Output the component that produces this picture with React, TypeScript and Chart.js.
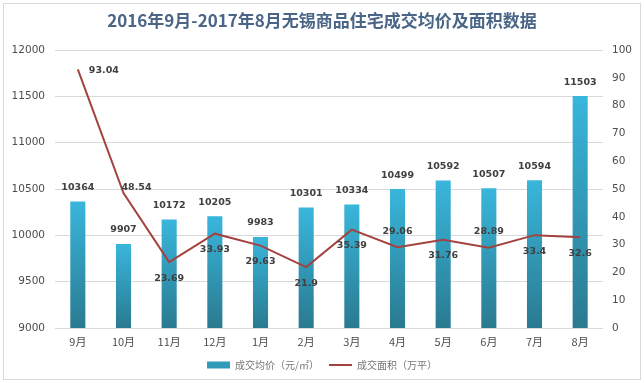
import React, { useEffect, useRef } from 'react';
import { Chart, registerables } from 'chart.js';

Chart.register(...registerables);

const titleText = '2016年9月-2017年8月无锡商品住宅成交均价及面积数据';
const months = ['9月', '10月', '11月', '12月', '1月', '2月', '3月', '4月', '5月', '6月', '7月', '8月'];
const avgPrice = [10364, 9907, 10172, 10205, 9983, 10301, 10334, 10499, 10592, 10507, 10594, 11503];
const dealArea = [93.04, 48.54, 23.69, 33.93, 29.63, 21.9, 35.39, 29.06, 31.76, 28.89, 33.4, 32.6];
const areaLabelSide = ['right', 'aboveRight', 'below', 'below', 'below', 'below', 'below', 'above', 'below', 'above', 'below', 'below'];
const priceLabel = '成交均价（元/㎡）';
const areaLabel = '成交面积（万平）';
const priceMin = 9000;
const priceMax = 12000;
const priceStep = 500;
const areaMin = 0;
const areaMax = 100;
const areaStep = 10;

const BAR_TOP = '#39B6DC';
const BAR_BOTTOM = '#2A7A90';
const LINE_COLOR = '#A3433F';
const TICK_COLOR = '#4D4D4D';
const LABEL_COLOR = '#404040';
const NUM_FONT = '"DejaVu Sans", sans-serif';
const CJK_FONT = '"Noto Sans CJK SC", "Noto Sans", sans-serif';

const framePlugin = {
  id: 'frame',
  beforeDraw(chart: any) {
    const { ctx, width, height } = chart;
    ctx.save();
    ctx.fillStyle = '#ffffff';
    ctx.fillRect(0, 0, width, height);
    ctx.strokeStyle = '#D9D9D9';
    ctx.lineWidth = 1;
    ctx.strokeRect(3.5, 3.5, width - 7, height - 7);
    ctx.restore();
  },
};

const valueLabelPlugin = {
  id: 'valueLabels',
  afterDatasetsDraw(chart: any) {
    const { ctx } = chart;
    ctx.save();
    ctx.font = `bold 9.5px ${NUM_FONT}`;
    ctx.fillStyle = LABEL_COLOR;
    ctx.textBaseline = 'middle';
    const barMeta = chart.getDatasetMeta(0);
    barMeta.data.forEach((el: any, i: number) => {
      ctx.textAlign = 'center';
      ctx.fillText(String(avgPrice[i]), el.x, el.y - 14);
    });
    const lineMeta = chart.getDatasetMeta(1);
    lineMeta.data.forEach((el: any, i: number) => {
      const side = areaLabelSide[i];
      const txt = String(dealArea[i]);
      if (side === 'right') {
        ctx.textAlign = 'left';
        ctx.fillText(txt, el.x + 11, el.y + 1);
      } else if (side === 'aboveRight') {
        ctx.textAlign = 'center';
        ctx.fillText(txt, el.x + 13, el.y - 6);
      } else if (side === 'above') {
        ctx.textAlign = 'center';
        ctx.fillText(txt, el.x, el.y - 16);
      } else {
        ctx.textAlign = 'center';
        ctx.fillText(txt, el.x, el.y + 16);
      }
    });
    ctx.restore();
  },
};

export default function App() {
  const canvasRef = useRef<HTMLCanvasElement | null>(null);

  useEffect(() => {
    document.body.style.margin = '0';
    const canvas = canvasRef.current;
    if (!canvas) return;

    const chart = new Chart(canvas, {
      type: 'bar',
      data: {
        labels: months,
        datasets: [
          {
            type: 'bar',
            label: priceLabel,
            data: avgPrice,
            yAxisID: 'y',
            order: 2,
            categoryPercentage: 1,
            barPercentage: 0.33,
            backgroundColor: (c: any) => {
              const ch = c.chart;
              const area = ch.chartArea;
              if (!area || c.type !== 'data') return BAR_TOP;
              const top = ch.scales.y.getPixelForValue(c.raw);
              const g = ch.ctx.createLinearGradient(0, top, 0, area.bottom);
              g.addColorStop(0, BAR_TOP);
              g.addColorStop(1, BAR_BOTTOM);
              return g;
            },
          } as any,
          {
            type: 'line',
            label: areaLabel,
            data: dealArea,
            yAxisID: 'y1',
            order: 1,
            borderColor: LINE_COLOR,
            borderWidth: 2,
            pointRadius: 0,
            tension: 0,
            fill: false,
          } as any,
        ],
      },
      options: {
        animation: false,
        responsive: false,
        maintainAspectRatio: false,
        layout: { padding: { left: 0, right: 0, top: 0, bottom: 3 } },
        plugins: {
          title: {
            display: true,
            text: titleText,
            color: '#4A6586',
            font: { family: CJK_FONT, size: 17, weight: 'bold', lineHeight: 1.2 },
            padding: { top: 10, bottom: 19.6 },
          },
          legend: {
            display: true,
            position: 'bottom',
            labels: {
              usePointStyle: true,
              pointStyleWidth: 23,
              boxHeight: 7,
              padding: 10,
              color: '#767676',
              font: { family: CJK_FONT, size: 10 },
              generateLabels: () => [
                {
                  text: priceLabel,
                  fillStyle: '#2F9BB8',
                  strokeStyle: '#2F9BB8',
                  lineWidth: 0,
                  pointStyle: 'rect',
                  datasetIndex: 0,
                  hidden: false,
                  fontColor: '#767676',
                } as any,
                {
                  text: areaLabel,
                  fillStyle: LINE_COLOR,
                  strokeStyle: LINE_COLOR,
                  lineWidth: 2,
                  pointStyle: 'line',
                  datasetIndex: 1,
                  hidden: false,
                  fontColor: '#767676',
                } as any,
              ],
            },
          },
          tooltip: { enabled: false },
        },
        scales: {
          x: {
            offset: true,
            grid: { display: false, drawTicks: false },
            border: { display: false },
            ticks: {
              color: TICK_COLOR,
              padding: 7,
              font: { family: CJK_FONT, size: 11 },
              maxRotation: 0,
            },
            afterFit: (s: any) => {
              s.height = 22;
            },
          },
          y: {
            position: 'left',
            min: priceMin,
            max: priceMax,
            grid: { color: '#D9D9D9', drawTicks: false, lineWidth: 1 },
            border: { display: false },
            ticks: {
              stepSize: priceStep,
              color: TICK_COLOR,
              padding: 10,
              font: { family: NUM_FONT, size: 10.5 },
              callback: (v: any) => String(v),
            },
            afterFit: (s: any) => {
              s.width = 55;
            },
          },
          y1: {
            position: 'right',
            min: areaMin,
            max: areaMax,
            grid: { display: false, drawTicks: false },
            border: { display: false },
            ticks: {
              stepSize: areaStep,
              color: TICK_COLOR,
              padding: 9,
              font: { family: NUM_FONT, size: 10.5 },
              callback: (v: any) => String(v),
            },
            afterFit: (s: any) => {
              s.width = 41;
            },
          },
        },
      },
      plugins: [framePlugin, valueLabelPlugin],
    } as any);

    return () => {
      chart.destroy();
    };
  }, []);

  return (
    <div style={{ width: 644, height: 383, position: 'relative' }}>
      <canvas ref={canvasRef} width={644} height={383} style={{ display: 'block', width: 644, height: 383 }} />
    </div>
  );
}
